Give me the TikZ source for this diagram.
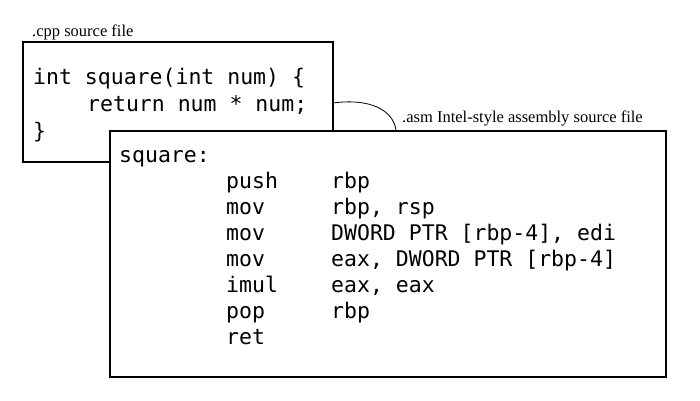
\documentclass[tikz,border=0pt]{standalone}
\usepackage{fontspec}
\setmainfont{Liberation Serif}
\setmonofont{DejaVu Sans Mono}
\begin{document}
\begin{tikzpicture}[x=1pt,y=-1pt,
  box/.style={draw=black,line width=1.1pt,fill=white},
  code/.style={anchor=base west,inner sep=0pt,font=\ttfamily\fontsize{21.5}{24}\selectfont},
  lbl/.style={anchor=base west,inner sep=0pt,font=\fontsize{16.5}{19}\selectfont}]
\useasboundingbox (0,0) rectangle (700,400);
\node[lbl] (l1) at (32,36) {.cpp source file};
\draw[box] (23,42) rectangle (333,162);
\coordinate (cA) at (333,103);
\node[code] (c1) at (33,84) {int square(int num) \{};
\node[code] (c2) at (87,111) {return num * num;};
\node[code] (c3) at (33,138) {\}};
\node[lbl] (l2) at (402,122) {.asm Intel-style assembly source file};
\coordinate (cB) at (396,130);
\draw[line width=0.8pt] (cA) .. controls (370,98) and (393,110) .. (cB);
\draw[box] (110,131) rectangle (666,377);
\node[code] (s0) at (119,162) {square:};
\foreach \y/\a/\b [count=\i] in {188/push/rbp,214/mov/{rbp, rsp},240/mov/{DWORD PTR [rbp-4], edi},266/mov/{eax, DWORD PTR [rbp-4]},292/imul/{eax, eax},318/pop/rbp,344/ret/{}}{
  \node[code] (a\i) at (226,\y) {\a};
  \node[code] (b\i) at (331,\y) {\b};
}
\end{tikzpicture}
\end{document}
